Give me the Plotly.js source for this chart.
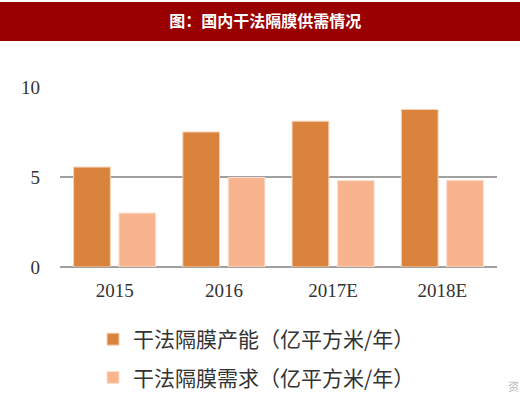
<!DOCTYPE html>
<html>
<head>
<meta charset="utf-8">
<script src="https://cdn.plot.ly/plotly-3.0.1.min.js"></script>
<style>html,body{margin:0;padding:0;background:#fff;}#chart{width:520px;height:395px;}</style>
</head>
<body>
<div id="chart"></div>
<script>
const categories = ['2015', '2016', '2017E', '2018E'];
const capacity = [5.55, 7.5, 8.1, 8.75];
const demand = [3.0, 4.97, 4.8, 4.82];
const seriesNames = ['干法隔膜产能（亿平方米/年）', '干法隔膜需求（亿平方米/年）'];
const yTicks = [0, 5, 10];
const titleText = '图：国内干法隔膜供需情况';

const W = 520, H = 395;
const m = {l: 60, r: 23, t: 87, b: 128, autoexpand: false};
const pw = W - m.l - m.r, ph = H - m.t - m.b;
const px = v => (v - m.l) / pw;
const py = v => (H - m.b - v) / ph;

const traces = [
  {type: 'bar', x: categories, y: capacity, name: seriesNames[0], legendgroup: 'a',
   marker: {color: '#D9833C', line: {color: '#F8D2B8', width: 1}}},
  {type: 'bar', x: categories, y: demand, name: seriesNames[1], legendgroup: 'b',
   marker: {color: '#F7B48F', line: {color: '#FCE0D0', width: 1}}}
];

const layout = {
  width: W, height: H,
  margin: m,
  paper_bgcolor: '#ffffff', plot_bgcolor: '#ffffff',
  barmode: 'group', bargap: 0.17, bargroupgap: 0.19,
  showlegend: true,
  legend: {x: px(93), y: py(319), xanchor: 'left', yanchor: 'top',
           font: {family: 'Noto Sans CJK SC', size: 21, color: '#333333'},
           traceorder: 'grouped', tracegroupgap: 8, bgcolor: 'rgba(0,0,0,0)'},
  title: {text: titleText, x: 0.51, xanchor: 'center', y: 1 - 21 / H, yanchor: 'middle',
          font: {family: 'Noto Sans CJK SC', size: 16, color: '#ffffff', weight: 'bold'}},
  xaxis: {type: 'category', showgrid: false, zeroline: false, showline: false, ticks: '',
          ticklabelstandoff: 10,
          tickfont: {family: 'Liberation Serif', size: 19, color: '#333333'}, fixedrange: true},
  yaxis: {range: [0, 10], tickvals: yTicks, ticktext: yTicks.map(String),
          showgrid: true, gridcolor: '#A0A0A0', gridwidth: 1.8,
          zeroline: true, zerolinecolor: '#A0A0A0', zerolinewidth: 1.8, showline: false,
          ticks: '', ticklabelstandoff: 19,
          tickfont: {family: 'Liberation Serif', size: 19, color: '#333333'}},
  shapes: [
    {type: 'rect', xref: 'paper', yref: 'paper', x0: px(0), x1: px(W), y0: py(41), y1: py(2),
     fillcolor: '#990000', line: {width: 0}, layer: 'below'}
  ],
  annotations: [
    {text: '资', xref: 'paper', yref: 'paper', x: px(506), y: py(386), xanchor: 'left', yanchor: 'middle',
     showarrow: false, font: {family: 'Noto Sans CJK SC', size: 11, color: '#BBBBBB'}}
  ]
};

Plotly.newPlot('chart', traces, layout, {displayModeBar: false, staticPlot: true});
</script>
</body>
</html>
